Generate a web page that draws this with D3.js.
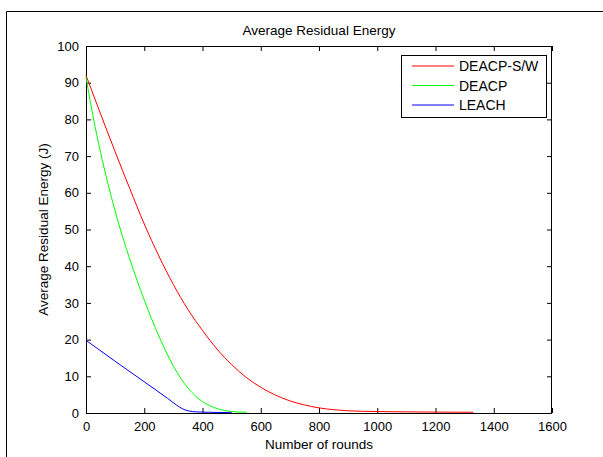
<!DOCTYPE html>
<html><head><meta charset="utf-8">
<script src="https://cdn.jsdelivr.net/npm/d3@7"></script>
<style>body{margin:0;background:#fff}svg{display:block}text{font-family:"Liberation Sans",Arial,sans-serif;fill:#000}</style>
</head><body>
<svg id="c" width="603" height="457"></svg>
<script>
const title = "Average Residual Energy";
const xLabel = "Number of rounds";
const yLabel = "Average Residual Energy (J)";
const seriesNames = ["DEACP-S/W", "DEACP", "LEACH"];
const seriesColors = ["#ff0000", "#00ff00", "#0000ff"];
const xTicks = [0,200,400,600,800,1000,1200,1400,1600];
const yTicks = [0,10,20,30,40,50,60,70,80,90,100];

const redX = [0,50,100,150,200,250,300,350,400,450,500,550,600,650,700,750,800,850,900,1000,1100,1200,1330];
const redY = [92,81.5,71.2,61.2,51.5,42.8,35,28.2,22.5,17.4,13.2,9.7,7,4.9,3.3,2.2,1.4,0.9,0.6,0.4,0.3,0.25,0.2];
const greenX = [0,25,50,75,100,125,150,175,200,225,250,275,300,325,350,375,400,425,450,475,500,552];
const greenY = [91.5,80.5,71,62.6,55,48.2,42,36.2,30.8,25.7,21,16.7,12.8,9.5,6.8,4.7,3.1,2,1.2,0.7,0.4,0.2];
const blueX = [0,100,200,280,310,330,350,380,420,500];
const blueY = [19.8,14.1,8.5,4.0,2.2,1.2,0.6,0.3,0.2,0.1];

const svg = d3.select("#c");
const L = 86, R = 552, T = 46, B = 413;
const x = d3.scaleLinear().domain([0,1600]).range([L,R]);
const y = d3.scaleLinear().domain([0,100]).range([B,T]);

// outer frame
svg.append("path").attr("d","M6.5,457 V11.5 H603").attr("fill","none").attr("stroke","#000");

// axes
const fs = 13;
const gx = svg.append("g").attr("transform",`translate(0,${B})`)
  .call(d3.axisBottom(x).tickValues(xTicks).tickSize(-5).tickPadding(9).tickFormat(d3.format("d")));
const gxt = svg.append("g").attr("transform",`translate(0,${T})`)
  .call(d3.axisTop(x).tickValues(xTicks).tickSize(-5).tickFormat(""));
const gy = svg.append("g").attr("transform",`translate(${L},0)`)
  .call(d3.axisLeft(y).tickValues(yTicks).tickSize(-5).tickPadding(7).tickFormat(d3.format("d")));
const gyr = svg.append("g").attr("transform",`translate(${R},0)`)
  .call(d3.axisRight(y).tickValues(yTicks).tickSize(-5).tickFormat(""));
[gx,gxt,gy,gyr].forEach(g=>{
  g.selectAll(".domain").remove();
  g.selectAll("line").attr("stroke","#000");
  g.selectAll("text").attr("font-size",fs).attr("font-family","Liberation Sans, Arial, sans-serif").attr("fill","#000");
});
svg.append("rect").attr("x",L+0.5).attr("y",T+0.5).attr("width",R-L-1).attr("height",B-T).attr("fill","none").attr("stroke","#000");

// lines
const line = d3.line().curve(d3.curveMonotoneX).x(d=>x(d[0])).y(d=>y(d[1]));
const data = [d3.zip(redX,redY), d3.zip(greenX,greenY), d3.zip(blueX,blueY)];
data.forEach((d,i)=>{
  svg.append("path").datum(d).attr("d",line).attr("fill","none").attr("stroke",seriesColors[i]).attr("stroke-width",1);
});

// labels
const lf = 13.5;
svg.append("text").attr("x",(L+R)/2).attr("y",35).attr("text-anchor","middle").attr("font-size",lf).text(title);
svg.append("text").attr("x",(L+R)/2).attr("y",449).attr("text-anchor","middle").attr("font-size",lf).text(xLabel);
svg.append("text").attr("transform",`translate(48,${(T+B)/2}) rotate(-90)`).attr("text-anchor","middle").attr("font-size",lf).text(yLabel);

// legend
const lg = svg.append("g");
lg.append("rect").attr("x",401.5).attr("y",55.5).attr("width",145).attr("height",62).attr("fill","#fff").attr("stroke","#000");
seriesNames.forEach((n,i)=>{
  const yy = 66 + i*19.5;
  lg.append("line").attr("x1",412).attr("x2",454).attr("y1",yy).attr("y2",yy).attr("stroke",seriesColors[i]);
  lg.append("text").attr("x",459).attr("y",yy+5).attr("font-size",14).text(n);
});
</script>
</body></html>
